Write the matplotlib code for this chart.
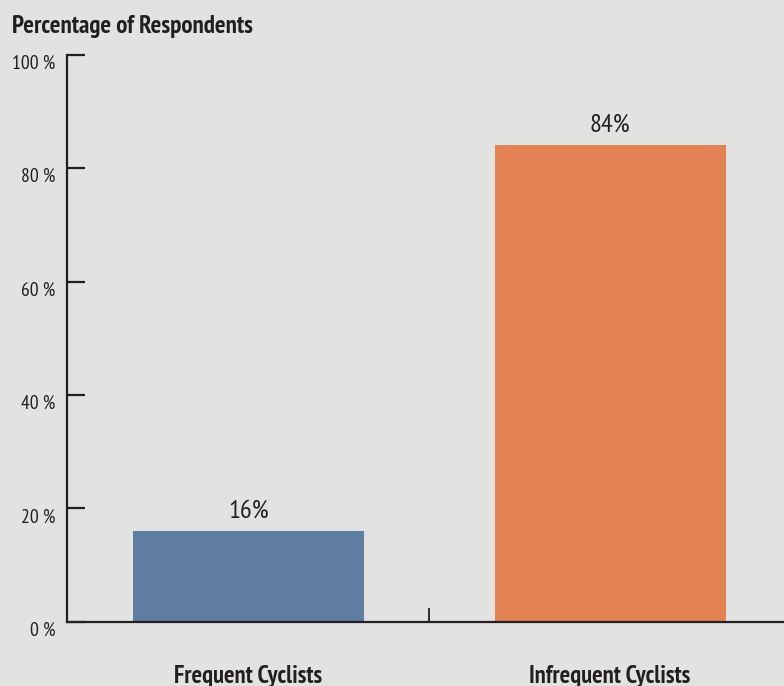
import matplotlib
matplotlib.use("Agg")
import matplotlib.pyplot as plt
from matplotlib.transforms import ScaledTranslation

# ---- data ----
categories = ["Frequent Cyclists", "Infrequent Cyclists"]
values = [16, 84]
value_labels = ["16%", "84%"]
y_ticks = [0, 20, 40, 60, 80, 100]
y_tick_labels = ["0 %", "20 %", "40 %", "60 %", "80 %", "100 %"]
bar_colors = ["#5f7da1", "#e38255"]

BG = "#e2e2e0"
INK = "#231f20"
FONT = ["PT Sans Narrow", "Fira Sans Condensed", "Roboto Condensed",
        "Archivo Narrow", "DejaVu Sans"]
plt.rcParams["font.family"] = FONT

fig = plt.figure(figsize=(7.84, 6.86), dpi=100)
fig.patch.set_facecolor(BG)
ax = fig.add_axes([67 / 784, (686 - 621.7) / 686, 1 - 67 / 784, (621.7 - 54.7) / 686])
ax.set_facecolor(BG)

x = list(range(len(categories)))
bars = ax.bar(x, values, width=0.639, color=bar_colors, zorder=2)
ax.bar_label(bars, labels=value_labels, padding=6, fontsize=19, color=INK)

ax.set_xlim(-0.502, 1.481)
ax.set_ylim(0, 100)

for s in ["top", "right"]:
    ax.spines[s].set_visible(False)
for s in ["left", "bottom"]:
    ax.spines[s].set_color(INK)
    ax.spines[s].set_linewidth(1.6)
    ax.spines[s].set_zorder(3)

ax.set_yticks(y_ticks)
ax.set_yticklabels(y_tick_labels)
ax.tick_params(axis="y", direction="in", length=13, width=1.6, color=INK,
               labelsize=14, labelcolor=INK, pad=8.5)
shift = ScaledTranslation(0, -7 / 100, fig.dpi_scale_trans)
for lab in ax.get_yticklabels():
    lab.set_transform(lab.get_transform() + shift)

ax.set_xticks(x)
ax.set_xticklabels(categories, fontweight="bold")
ax.tick_params(axis="x", which="major", length=0, labelsize=17.7,
               labelcolor=INK, pad=31)
ax.set_xticks([0.5], minor=True)
ax.tick_params(axis="x", which="minor", direction="in", length=10,
               width=1.3, color=INK)

fig.text(12 / 784, 1 - 32.5 / 686, "Percentage of Respondents",
         fontsize=18, fontweight="bold", color=INK, va="baseline", ha="left")

fig.savefig("out.png", dpi=100, facecolor=BG)
